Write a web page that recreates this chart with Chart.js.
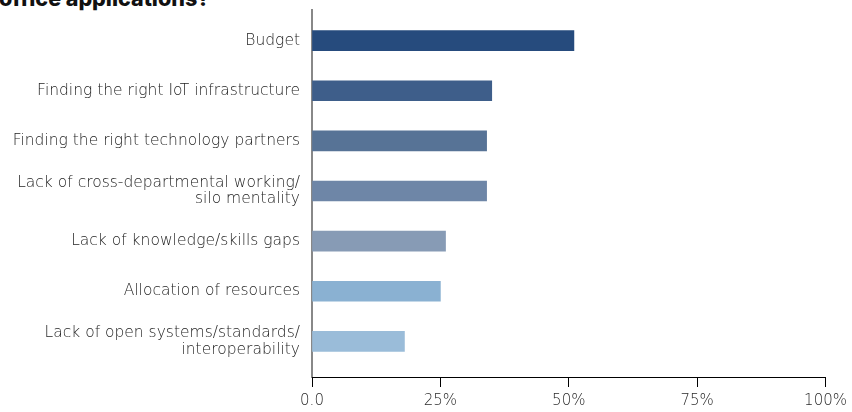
<!DOCTYPE html>
<html>
<head>
<meta charset="utf-8">
<script src="https://cdn.jsdelivr.net/npm/chart.js@4"></script>
<style>
  html, body { margin: 0; padding: 0; background: #fff; }
  #wrap { position: relative; width: 852px; height: 412px; overflow: hidden; }
  #heading {
    position: absolute; left: -1px; top: -15px;
    font-family: "Inter", "DejaVu Sans", sans-serif; font-weight: 800;
    font-size: 21.5px; color: #111; white-space: nowrap;
  }
  canvas { position: absolute; left: 0; top: 0; }
</style>
</head>
<body>
<div id="wrap">
  <div id="heading">office applications?</div>
  <canvas id="barChart" width="852" height="412"></canvas>
</div>
<script>
// Antworten in Prozent, von oben nach unten
var categories = [
    ['Budget'],
    ['Finding the right IoT infrastructure'],
    ['Finding the right technology partners'],
    ['Lack of cross-departmental working/', 'silo mentality'],
    ['Lack of knowledge/skills gaps'],
    ['Allocation of resources'],
    ['Lack of open systems/standards/', 'interoperability']
];
var values = [51, 35, 34, 34, 26, 25, 18];
var barColors = ['#264b7d', '#3e5e8a', '#577396', '#6e86a7', '#879bb5', '#8ab1d2', '#9abcd9'];
var xTicks = [0, 25, 50, 75, 100];
var xTickLabels = ['0.0', '25%', '50%', '75%', '100%'];

var labelFont = { family: 'DejaVu Sans', size: 15.5, weight: 200, lineHeight: 1.05 };

document.addEventListener('DOMContentLoaded', function() {
    var barChart = new Chart(document.getElementById('barChart').getContext('2d'), {
        type: 'bar',
        data: {
            datasets: [{
                data: values.map((v, i) => ({ x: v, y: i })),
                backgroundColor: barColors,
                barThickness: 20
            }]
        },
        options: {
            indexAxis: 'y',
            responsive: false,
            animation: false,
            layout: { padding: { top: 10, right: 20, left: 0, bottom: 0 } },
            plugins: { legend: { display: false }, tooltip: { enabled: false } },
            scales: {
                y: {
                    type: 'linear',
                    reverse: true,
                    offset: false,
                    bounds: 'data',
                    min: -0.61,
                    max: 6.71,
                    afterBuildTicks: function(scale) {
                        scale.ticks = categories.map((c, i) => ({ value: i }));
                    },
                    afterFit: function(scale) {
                        scale.width = 312;
                        // keine Extra-Abstände oben/unten für die Beschriftungen
                        scale.paddingTop = 0;
                        scale.paddingBottom = 0;
                    },
                    grid: { display: false, drawTicks: false },
                    border: { display: true, color: '#888', width: 2 },
                    ticks: {
                        padding: 12,
                        color: '#1e1e1e',
                        font: labelFont,
                        callback: function(value) { return categories[value]; }
                    }
                },
                x: {
                    min: 0,
                    max: 100,
                    afterBuildTicks: function(scale) {
                        scale.ticks = xTicks.map(v => ({ value: v }));
                    },
                    afterFit: function(scale) { scale.height = 35; },
                    grid: { drawOnChartArea: false, drawTicks: true, tickLength: 10, color: '#000', lineWidth: 1 },
                    border: { display: true, color: '#000', width: 1 },
                    ticks: {
                        padding: 5,
                        color: '#2a2a2a',
                        maxRotation: 0,
                        font: { family: 'DejaVu Sans', size: 15, weight: 200 },
                        callback: function(value) { return xTickLabels[xTicks.indexOf(value)]; }
                    }
                }
            }
        }
    });
});
</script>
</body>
</html>
